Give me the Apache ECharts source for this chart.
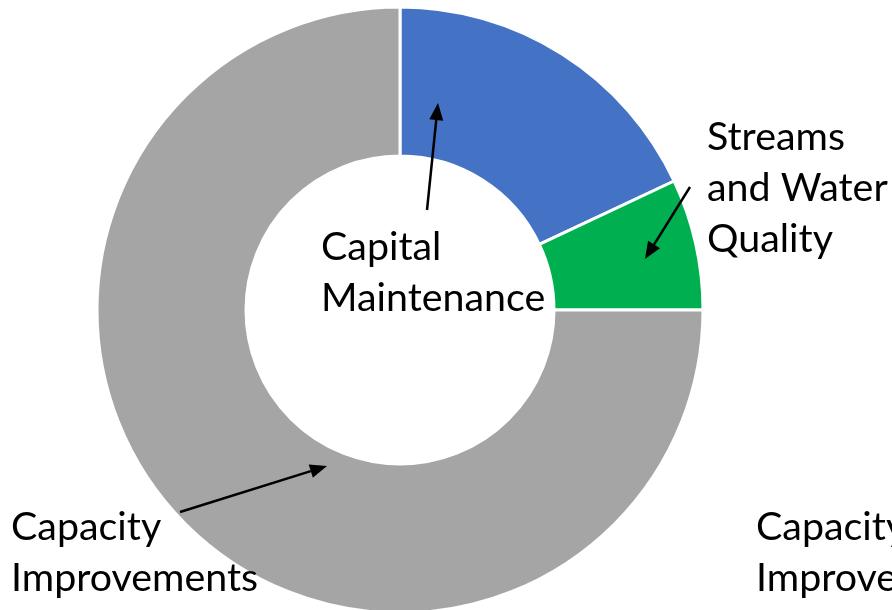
<!DOCTYPE html>
<html><head><meta charset="utf-8">
<script src="https://cdn.jsdelivr.net/npm/echarts@6/dist/echarts.min.js"></script>
<style>html,body{margin:0;padding:0;background:#fff}#c{width:892px;height:610px}</style>
</head><body><div id="c"></div>
<script>
const categories = ['Capital Maintenance', 'Streams and Water Quality', 'Capacity Improvements'];
const values = [18, 7, 75];
const colors = ['#4472C4', '#00B050', '#A5A5A5'];

const FONT = 'Lato';
const FS = 39;
function label(text, x, y) {
  return { type: 'text', left: x, top: y, z: 10, scaleX: 1.01,
    style: { text: text, font: FS + 'px ' + FONT, fill: '#000', lineHeight: 51 } };
}
function arrow(x1, y1, x2, y2) {
  const a = Math.atan2(y2 - y1, x2 - x1), L = 17, W = 7;
  const bx = x2 - L * Math.cos(a), by = y2 - L * Math.sin(a);
  const px = -Math.sin(a), py = Math.cos(a);
  return [
    { type: 'line', z: 10, shape: { x1: x1, y1: y1, x2: bx, y2: by }, style: { stroke: '#000', lineWidth: 2.5 } },
    { type: 'polygon', z: 10, shape: { points: [[x2, y2], [bx + px * W, by + py * W], [bx - px * W, by - py * W]] }, style: { fill: '#000' } }
  ];
}

const chart = echarts.init(document.getElementById('c'), null, { renderer: 'canvas' });
chart.setOption({
  animation: false,
  backgroundColor: '#fff',
  series: [{
    type: 'pie',
    center: [400, 310],
    radius: [154, 303],
    startAngle: 90,
    clockwise: true,
    label: { show: false },
    labelLine: { show: false },
    itemStyle: { borderColor: '#fff', borderWidth: 3 },
    data: categories.map((c, i) => ({ name: c, value: values[i], itemStyle: { color: colors[i] } }))
  }],
  graphic: [
    label('Capital\nMaintenance', 321, 222),
    label('Streams\nand Water\nQuality', 707, 112),
    label('Capacity\nImprovements', 11, 502),
    label('Capacity\nImprovements', 756, 502),
    ...arrow(427, 210, 438, 103),
    ...arrow(690, 187, 645, 259),
    ...arrow(180, 512, 327, 466)
  ]
});
</script></body></html>
